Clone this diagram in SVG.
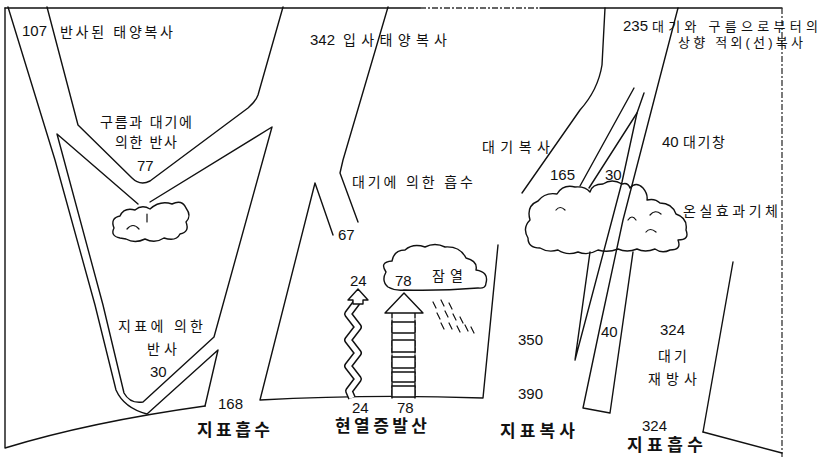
<svg xmlns="http://www.w3.org/2000/svg" width="824" height="457" viewBox="0 0 824 457">
<style>
.ln{fill:none;stroke:#111;stroke-width:1.4;stroke-linejoin:round;stroke-linecap:round}
.dash{fill:none;stroke:#333;stroke-width:1.3;stroke-dasharray:6 2 2 2}
.cl{fill:#fff;stroke:#111;stroke-width:1.4;stroke-linejoin:round}
.mk{fill:none;stroke:#111;stroke-width:1.2;stroke-linecap:round}
.t{font-family:"Liberation Sans","Noto Sans CJK KR",sans-serif;font-size:14px;fill:#111}
.n{font-size:15px}
.s{font-size:13px}
.b{font-size:17px;font-weight:bold}
</style>
<rect width="824" height="457" fill="#fff"/>

<!-- frame and earth surface -->
<g id="frame">
  <path class="ln" d="M5,8 L420,8"/>
  <path class="dash" d="M420,8 L540,8"/>
  <path class="ln" d="M540,8 L782,8"/>
  <path class="dash" d="M782,8 L782,457"/>
  <path class="ln" d="M5,8 L5,448 Q90,422 205,406"/>
  <path class="ln" d="M703,432 L782,453"/>
</g>

<!-- clouds -->
<g id="cloud-left">
  <path class="cl" d="M120,238 Q110,236 114,228 Q110,218 120,216 Q124,207 135,210 Q142,204 150,209 Q160,200 172,204 Q182,199 186,208 Q192,216 186,222 Q190,232 180,234 Q176,242 164,238 Q155,244 145,239 Q135,244 126,239 Z"/>
  <path class="mk" d="M127,229 Q133,222 139,229 M147,214 L147,222"/>
</g>
<g id="cloud-right">
  <path class="cl" d="M540,248 Q528,248 528,238 Q522,228 530,220 Q526,206 538,201 Q545,192 557,194 Q563,184 575,187 Q585,186 590,192 Q592,184 603,184 Q612,178 622,184 Q628,182 630,188 Q636,181 643,188 Q648,194 647,200 Q655,198 660,203 Q672,203 676,214 Q688,218 686,230 Q690,240 678,240 Q682,250 670,250 Q662,254 655,249 Q645,253 637,249 Q627,253 618,249 Q608,253 598,250 Q588,256 578,252 Q567,256 558,250 Q548,253 540,248 Z"/>
  <path class="mk" d="M556,210 Q560,205 565,210 M628,220 Q632,214 636,220 M650,215 Q655,209 661,214 M646,232 Q650,227 656,232"/>
</g>
<g id="cloud-latent">
  <path class="cl" d="M388,287 Q381,281 386,272 Q379,262 392,261 Q394,250 405,250 Q413,243 425,247 Q435,242 445,247 Q460,246 466,258 Q478,261 476,270 Q489,272 486,283 Q486,289 478,288 Q440,291 404,290 Q395,291 388,287 Z"/>
  <path class="mk" d="M433,302 l3,6 M441,300 l3,6 M449,303 l3,6 M437,313 l3,6 M445,311 l3,6 M453,314 l3,6 M460,317 l3,6 M441,323 l3,6 M449,323 l3,6 M457,326 l3,6 M465,325 l3,6 M471,327 l3,6"/>
</g>

<!-- energy flow bands -->
<g id="connectors">
  <!-- reflected solar: outer edge, surface reflection 30 -->
  <path class="ln" d="M8,7 L55,160 L95,305 L116,390 Q124,408 147,414 L218,350 L205,406"/>
  <!-- inner edge of surface reflection and lower edge of cloud reflection -->
  <path class="ln" d="M138,204 L57,134 L103,305 L124,393 Q130,404 143,402 L214,337 L272,127 L150,202"/>
  <!-- upper edge of cloud reflection 77 -->
  <path class="ln" d="M47,7 L78,125 L132,178 Q140,186 150,181 L248,108 Q256,101 258,95 L283,7"/>
  <!-- incoming 342 right edge and absorbed 67 -->
  <path class="ln" d="M388,7 L343,160 L340,173 L358,222"/>
  <path class="ln" d="M333,235 L315,183 L260,400 Q370,394 483,398 L498,245"/>
  <!-- outgoing longwave 235 -->
  <path class="ln" d="M605,8 L602,65 Q598,90 580,110 L522,193"/>
  <path class="ln" d="M678,8 L660,77 L623,220 L600,327 L583,408 L610,413 L633,252"/>
  <path class="ln" d="M634,88 L580,186"/>
  <path class="ln" d="M644,93 L637,113 L589,188"/>
  <path class="ln" d="M637,113 L622,182 L612,220 L575,360 L590,252"/>
  <!-- back radiation 324 -->
  <path class="ln" d="M733,262 L703,432"/>
</g>

<!-- sensible heat 24 -->
<g id="arrow-sensible">
  <polyline points="357,302 348,314 358,327 348,340 358,353 348,366 358,379 349,391 352,398" fill="none" stroke="#111" stroke-width="8" stroke-linejoin="round"/>
  <polyline points="357,302 348,314 358,327 348,340 358,353 348,366 358,379 349,391 352,398" fill="none" stroke="#fff" stroke-width="5" stroke-linejoin="round"/>
  <path class="cl" d="M358,289 L348,300 L353,300 L353,304 L363,304 L363,300 L368,300 Z"/>
</g>

<!-- latent heat 78 -->
<g id="arrow-latent">
  <path class="ln" d="M392,313 L392,398 M415,313 L415,398" stroke-dasharray="5 2"/>
  <path class="cl" d="M404,293 L385,313 L423,313 Z"/>
  <rect class="cl" x="392" y="322" width="23" height="11"/>
  <rect class="cl" x="392" y="340" width="23" height="12"/>
  <rect class="cl" x="392" y="357" width="23" height="11"/>
  <rect class="cl" x="392" y="372" width="23" height="10"/>
  <rect class="cl" x="392" y="386" width="23" height="11"/>
</g>

<!-- labels -->
<g id="labels" class="t">
  <text class="n" x="22" y="36">107</text>
  <text x="60" y="37" textLength="113">반사된 태양복사</text>
  <text x="100" y="127" textLength="92">구름과 대기에</text>
  <text x="115" y="147" textLength="62">의한 반사</text>
  <text class="n" x="137" y="171">77</text>
  <text class="n" x="310" y="45">342</text>
  <text x="343" y="45" textLength="104">입사태양복사</text>
  <text x="352" y="187" textLength="121">대기에 의한 흡수</text>
  <text class="n" x="338" y="240">67</text>
  <text class="n" x="350" y="286">24</text>
  <text class="n" x="395" y="286">78</text>
  <text x="432" y="281" textLength="31">잠열</text>
  <text class="n" x="352" y="413">24</text>
  <text class="n" x="397" y="413">78</text>
  <text class="b" x="335" y="432" textLength="92">현열증발산</text>
  <text class="b" x="197" y="436" textLength="73">지표흡수</text>
  <text class="n" x="218" y="409">168</text>
  <text class="n" x="150" y="377">30</text>
  <text x="118" y="331" textLength="85">지표에 의한</text>
  <text x="147" y="354" textLength="30">반사</text>
  <text class="n" x="623" y="31">235</text>
  <text class="s" x="652" y="31" textLength="166">대기와 구름으로부터의</text>
  <text class="s" x="678" y="47" textLength="125">상향 적외(선)복사</text>
  <text class="n" x="662" y="147">40</text>
  <text x="683" y="147" textLength="42">대기창</text>
  <text x="482" y="152" textLength="68">대기복사</text>
  <text class="n" x="550" y="180">165</text>
  <text class="n" x="605" y="180">30</text>
  <text x="683" y="216" textLength="95">온실효과기체</text>
  <text class="n" x="518" y="345">350</text>
  <text class="n" x="518" y="399">390</text>
  <text class="n" x="601" y="337">40</text>
  <text class="n" x="660" y="335">324</text>
  <text x="658" y="361" textLength="29">대기</text>
  <text x="648" y="384" textLength="49">재방사</text>
  <text class="n" x="642" y="431">324</text>
  <text class="b" x="627" y="451" textLength="76">지표흡수</text>
  <text class="b" x="500" y="437" textLength="75">지표복사</text>
</g>
</svg>
